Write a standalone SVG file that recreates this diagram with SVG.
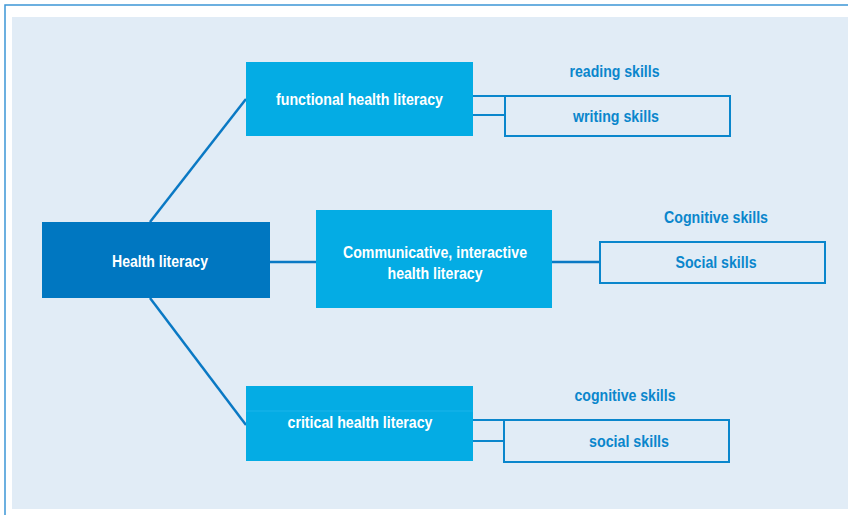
<svg xmlns="http://www.w3.org/2000/svg" width="848" height="515" viewBox="0 0 848 515">
<style>
.main{fill:#0077c1}
.box{fill:#04ace4}
.leaf{fill:none;stroke:#0a86cc;stroke-width:2}
.conn{stroke:#0a79c4;stroke-width:2.5;fill:none}
.wt{font-family:"Liberation Sans",Arial,sans-serif;font-weight:bold;font-size:17px;fill:#ffffff;text-anchor:middle}
.bt{font-family:"Liberation Sans",Arial,sans-serif;font-weight:bold;font-size:16px;fill:#0a86cc;text-anchor:middle}
</style>
<rect x="0" y="0" width="848" height="515" fill="#ffffff"/>
<rect x="12" y="17" width="836" height="492" fill="#e1ecf6"/>
<path d="M5 515 V5 H848" fill="none" stroke="#3d97d6" stroke-width="1.5"/>
<g id="connectors">
<line class="conn" x1="150" y1="222" x2="246" y2="99"/>
<line class="conn" x1="270" y1="262" x2="316" y2="262"/>
<line class="conn" x1="150" y1="298" x2="246" y2="425"/>
<path class="leaf" d="M473 96 H505 M473 115 H505"/>
<line class="conn" x1="552" y1="262" x2="600" y2="262"/>
<path class="leaf" d="M473 420 H504 M473 441 H504"/>
</g>
<g id="health-literacy">
<rect class="main" x="42" y="222" width="228" height="76"/>
<text class="wt" x="160" y="266.5" textLength="96" lengthAdjust="spacingAndGlyphs">Health literacy</text>
</g>
<g id="functional">
<rect class="box" x="246" y="62" width="227" height="74"/>
<text class="wt" x="359.5" y="104.5" textLength="167" lengthAdjust="spacingAndGlyphs">functional health literacy</text>
</g>
<g id="communicative">
<rect class="box" x="316" y="210" width="236" height="98"/>
<text class="wt" x="435" y="257.5" textLength="184" lengthAdjust="spacingAndGlyphs">Communicative, interactive</text>
<text class="wt" x="435" y="279" textLength="95" lengthAdjust="spacingAndGlyphs">health literacy</text>
</g>
<g id="critical">
<rect class="box" x="246" y="386" width="227" height="75"/>
<line x1="246" y1="411" x2="473" y2="411" stroke="#1ab4ea" stroke-width="1"/>
<text class="wt" x="360" y="428.3" textLength="145" lengthAdjust="spacingAndGlyphs">critical health literacy</text>
</g>
<g id="reading-skills">
<text class="bt" x="614.5" y="76.5" textLength="90" lengthAdjust="spacingAndGlyphs">reading skills</text>
</g>
<g id="writing-skills">
<rect class="leaf" x="505" y="96" width="225" height="40"/>
<text class="bt" x="616" y="122" textLength="86" lengthAdjust="spacingAndGlyphs">writing skills</text>
</g>
<g id="cognitive-skills-1">
<text class="bt" x="716" y="223.3" textLength="104" lengthAdjust="spacingAndGlyphs">Cognitive skills</text>
</g>
<g id="social-skills-1">
<rect class="leaf" x="600" y="242" width="225" height="41"/>
<text class="bt" x="716" y="268.3" textLength="81" lengthAdjust="spacingAndGlyphs">Social skills</text>
</g>
<g id="cognitive-skills-2">
<text class="bt" x="625" y="400.5" textLength="101" lengthAdjust="spacingAndGlyphs">cognitive skills</text>
</g>
<g id="social-skills-2">
<rect class="leaf" x="504" y="420" width="225" height="42"/>
<text class="bt" x="629" y="446.7" textLength="80" lengthAdjust="spacingAndGlyphs">social skills</text>
</g>
</svg>
